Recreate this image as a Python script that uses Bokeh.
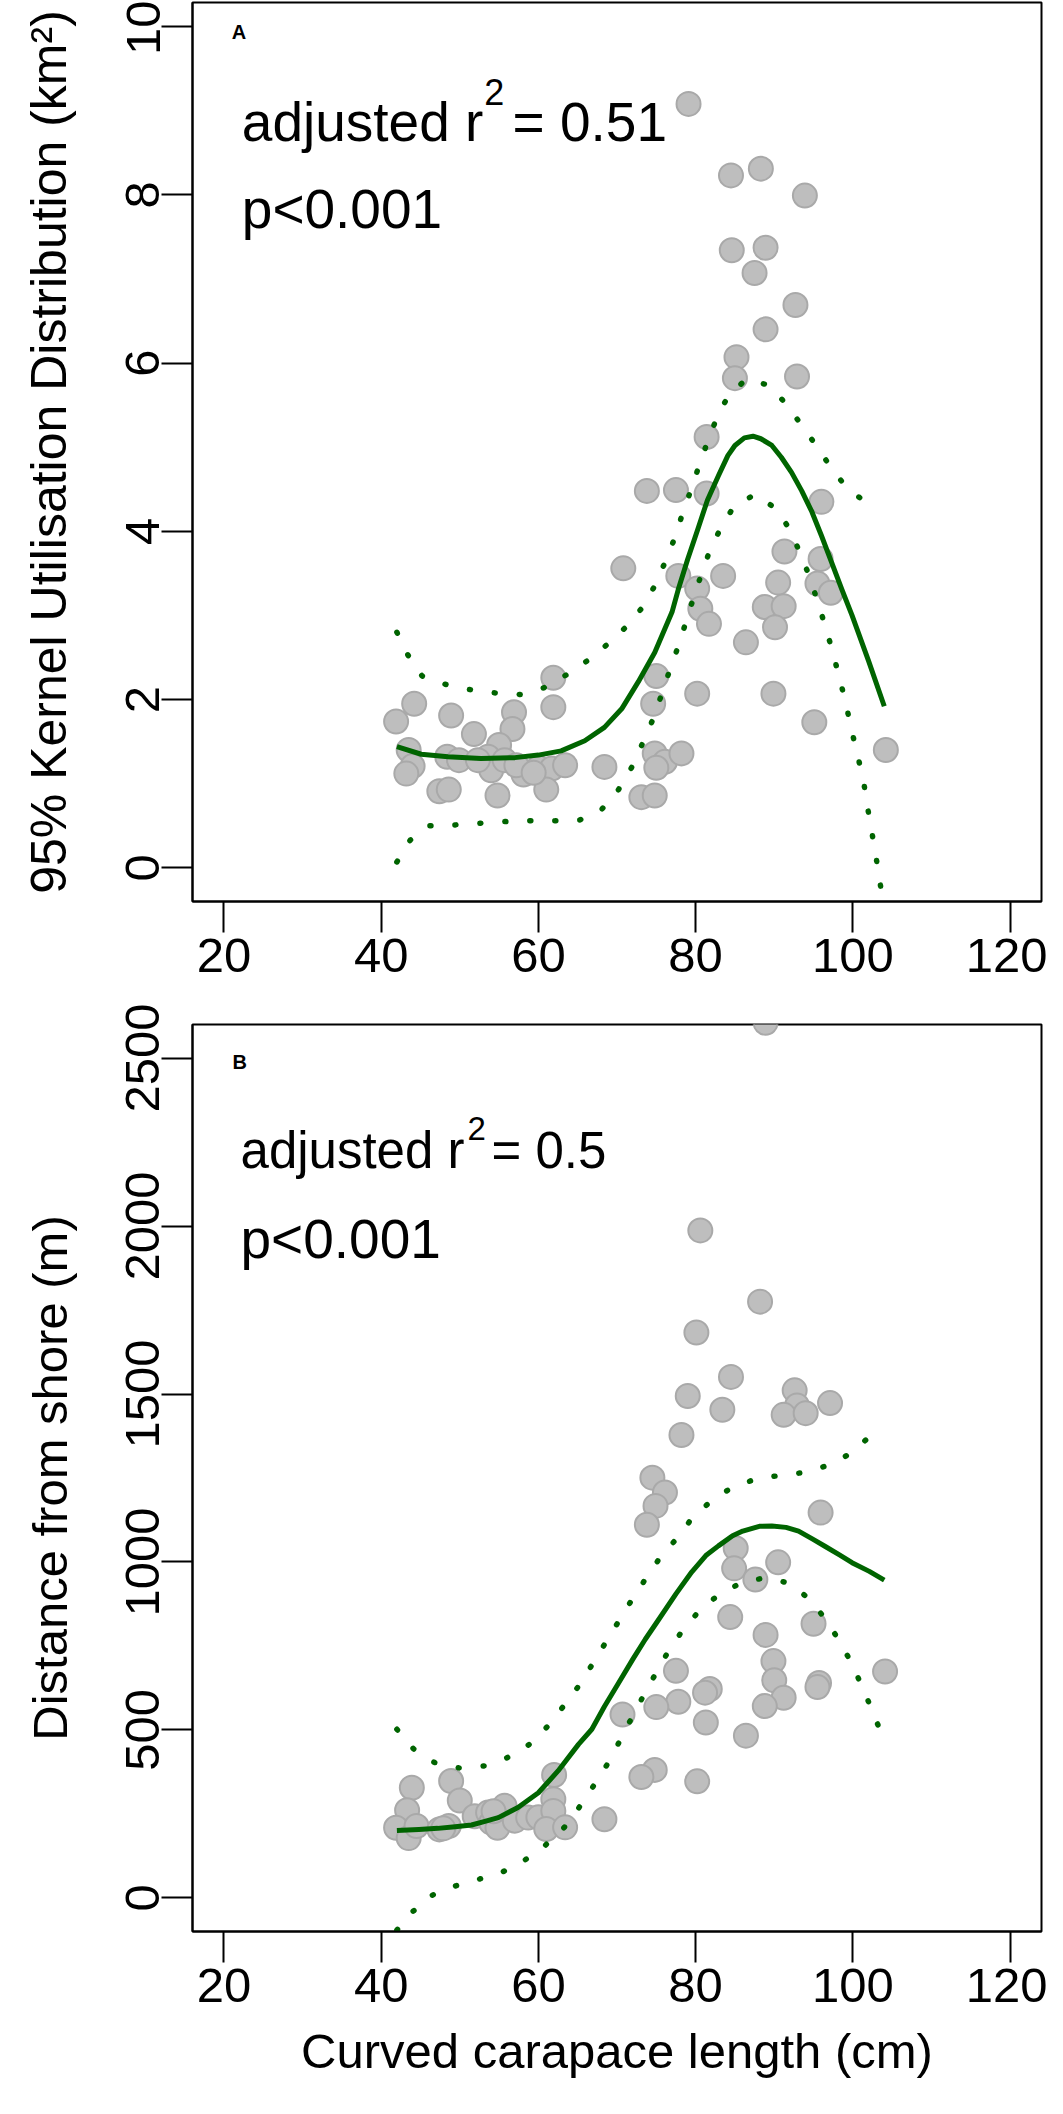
from bokeh.plotting import figure
from bokeh.layouts import column
from bokeh.models import Range1d, Label, FixedTicker
from bokeh.embed import file_html
from bokeh.resources import INLINE

FONT = "Liberation Sans"

# ---------------- Panel A data ----------------
a_x = [79.1, 84.5, 88.3, 93.9, 84.6, 88.9, 87.5, 92.7, 88.9, 85.2, 85.0, 92.9,
       81.4, 73.8, 77.5, 81.4, 96.0, 70.8, 91.3, 95.9, 83.5, 77.8, 80.2, 90.5,
       95.5, 97.2, 80.6, 88.8, 91.2, 81.7, 90.1, 86.4, 80.2, 89.9, 95.1, 104.2,
       75.0, 74.6, 74.8, 76.1, 75.0, 78.2, 73.1, 74.8, 68.4,
       41.9, 44.2, 48.9, 51.8, 56.9, 56.7, 61.9, 61.9, 55.0, 43.5, 44.0, 43.2,
       48.4, 49.9, 53.6, 54.0, 55.7, 58.1, 60.0, 61.7, 63.4, 61.0, 47.4, 48.6,
       54.8, 52.3, 57.2, 59.4]
a_y = [9.08, 8.23, 8.31, 7.99, 7.34, 7.37, 7.07, 6.69, 6.40, 6.07, 5.82, 5.84,
       5.12, 4.48, 4.49, 4.45, 4.35, 3.56, 3.76, 3.67, 3.47, 3.47, 3.32, 3.39,
       3.38, 3.27, 3.08, 3.10, 3.11, 2.90, 2.86, 2.68, 2.07, 2.07, 1.73, 1.40,
       2.28, 1.95, 1.36, 1.26, 1.19, 1.36, 0.84, 0.86, 1.20,
       1.74, 1.95, 1.81, 1.59, 1.85, 1.65, 2.26, 1.91, 1.46, 1.40, 1.21, 1.12,
       1.32, 1.28, 1.32, 1.16, 1.28, 1.11, 1.19, 1.18, 1.22, 0.93, 0.91, 0.93,
       0.86, 1.28, 1.22, 1.13]

a_fit_x = [42, 45.1, 48.5, 52.7, 57.0, 60.0, 62.9, 65.9, 68.4, 70.6, 72.7, 74.8,
           77.0, 77.8, 79.0, 80.3, 81.5, 82.9, 84.1, 85.0, 86.2, 87.3, 88.3, 89.7,
           90.9, 92.2, 93.5, 94.8, 96.0, 97.3, 98.6, 99.9, 102.0, 104.0]
a_fit_y = [1.44, 1.35, 1.32, 1.30, 1.31, 1.34, 1.39, 1.51, 1.67, 1.89, 2.21, 2.56,
           3.04, 3.31, 3.67, 4.03, 4.37, 4.66, 4.90, 5.02, 5.11, 5.13, 5.10, 5.02,
           4.88, 4.70, 4.48, 4.23, 3.95, 3.63, 3.31, 3.00, 2.46, 1.92]

a_up_x = [42, 43.4, 45.2, 48.2, 51.2, 54.4, 57.7, 60.7, 63.5, 66.2, 68.7, 71, 73.1,
          74.8, 76.1, 77.3, 78.3, 79.4, 80.4, 81.5, 82.7, 84.2, 86.5, 89.5, 91.6,
          93.5, 95.4, 97.2, 99.2, 101.7, 102.4]
a_up_y = [2.80, 2.53, 2.28, 2.18, 2.12, 2.08, 2.06, 2.14, 2.29, 2.46, 2.65, 2.85,
          3.08, 3.35, 3.63, 3.91, 4.20, 4.49, 4.77, 5.06, 5.35, 5.62, 5.81, 5.73,
          5.50, 5.26, 5.01, 4.76, 4.52, 4.34, 4.30]

a_lo_x = [42, 43.7, 46.2, 49.4, 52.6, 55.8, 59, 62.1, 65.3, 68.1, 70.2, 71.9, 73.2,
          74.5, 75.6, 76.6, 77.7, 78.7, 79.7, 80.7, 81.8, 83.2, 84.9, 87.6, 90.2,
          92, 93.3, 94.5, 95.5, 96.5, 97.4, 98.2, 99, 99.7, 100.4, 101.3, 101.8,
          102.9, 104]
a_lo_y = [0.07, 0.33, 0.50, 0.51, 0.53, 0.55, 0.56, 0.56, 0.57, 0.70, 0.93, 1.20,
          1.47, 1.75, 2.04, 2.32, 2.61, 2.90, 3.20, 3.48, 3.77, 4.04, 4.30, 4.44,
          4.27, 4.02, 3.74, 3.46, 3.17, 2.87, 2.58, 2.29, 2.00, 1.70, 1.41, 1.07,
          0.76, 0.16, -0.50]

# ---------------- Panel B data ----------------
b_x = [80.6, 88.2, 80.1, 84.5, 79.0, 83.4, 92.6, 92.9, 91.2, 94.0, 97.1, 78.2,
       74.5, 76.1, 74.9, 73.8, 95.9, 85.1, 84.9, 87.6, 90.5, 84.4, 95.0, 88.9,
       89.9, 90.0, 91.2, 88.8, 95.7, 95.5, 104.1, 77.5, 81.8, 81.2, 77.8, 75.0,
       81.3, 70.7, 86.4, 74.8, 73.1, 80.2, 68.4, 88.9,
       43.9, 48.9, 50.0, 43.3, 41.9, 43.5, 44.5, 47.4, 48.6, 51.9, 53.6, 54.0,
       54.8, 55.7, 57.0, 58.7, 60.0, 62.0, 61.9, 61.9, 61.0, 63.4, 54.3, 47.9]
b_y = [1987, 1775, 1683, 1551, 1494, 1453, 1511, 1466, 1438, 1443, 1473, 1378,
       1251, 1207, 1167, 1111, 1147, 1041, 981, 948, 999, 836, 816, 783,
       705, 648, 596, 571, 640, 628, 674, 676, 622, 611, 584, 568,
       522, 546, 483, 381, 360, 347, 234, 2605,
       328, 348, 290, 261, 209, 178, 214, 204, 214, 243, 254, 224,
       209, 274, 230, 239, 240, 366, 294, 259, 205, 210, 258, 207]

b_fit_x = [42, 44.8, 47.2, 49.4, 51.5, 53.2, 54.9, 57.4, 60.0, 62.5, 65.1, 66.8,
           68.4, 70.2, 72.0, 73.6, 75.2, 77.5, 79.5, 81.3, 82.9, 84.7, 86.0, 88.1,
           89.7, 91.5, 93.1, 94.9, 96.5, 98.3, 99.9, 102.1, 104]
b_fit_y = [201, 204, 207, 212, 217, 228, 239, 269, 313, 378, 457, 502,
           570, 640, 710, 770, 825, 905, 970, 1019, 1048, 1078, 1092, 1106,
           1107, 1103, 1092, 1068, 1046, 1021, 998, 972, 946]

b_up_x = [42, 44.1, 46.8, 49.9, 53.1, 56, 58.8, 61.1, 63.1, 65.1, 66.8, 68.5, 70.2,
          71.9, 73.7, 75.5, 77.6, 79.6, 82, 84.7, 87.7, 90.8, 94, 97, 99.8, 102.2,
          102.5]
b_up_y = [502, 444, 403, 387, 393, 417, 456, 509, 568, 630, 693, 758, 823,
          888, 952, 1014, 1070, 1132, 1182, 1223, 1247, 1258, 1267, 1289, 1324,
          1375, 1380]

b_lo_x = [42, 44, 46.5, 49.5, 52.5, 55.5, 58.3, 60.9, 63.3, 65.2, 67, 68.8, 70.3,
          71.8, 73.3, 74.9, 76.5, 78.3, 80.4, 82.9, 85.8, 88.8, 91.9, 94.4, 96.5,
          98.2, 99.8, 101.1, 102.4, 103.6, 104]
b_lo_y = [-96, -41, 8, 36, 56, 78, 113, 157, 210, 270, 333, 399, 465,
          533, 599, 667, 733, 795, 853, 902, 938, 953, 937, 891, 831,
          768, 701, 633, 562, 491, 480]

x_ticks = [20, 40, 60, 80, 100, 120]
a_ticks = [0, 2, 4, 6, 8, 10]
b_ticks = [0, 500, 1000, 1500, 2000, 2500]

GREEN = "#006400"


def make_panel(y_range, frame_h, top, bottom, yticks, ylabel, xlabel, ylab_size):
    p = figure(x_range=Range1d(16, 124), y_range=y_range,
               frame_width=849, frame_height=frame_h,
               min_border_left=192, min_border_right=6,
               min_border_top=top, min_border_bottom=bottom,
               output_backend="svg", toolbar_location=None)
    p.grid.visible = False
    p.outline_line_color = "black"
    p.outline_line_width = 2
    p.background_fill_color = "white"
    p.border_fill_color = "white"
    for ax in (p.xaxis[0], p.yaxis[0]):
        ax.axis_line_color = "black"
        ax.axis_line_width = 2
        ax.major_tick_line_color = "black"
        ax.major_tick_line_width = 2
        ax.major_tick_out = 31
        ax.major_tick_in = 0
        ax.minor_tick_line_color = None
        ax.major_label_text_font = FONT
        ax.major_label_text_font_size = "49px"
        ax.major_label_text_color = "black"
        ax.axis_label_text_font = FONT
        ax.axis_label_text_font_style = "normal"
        ax.axis_label_text_color = "black"
    p.xaxis.ticker = FixedTicker(ticks=x_ticks)
    p.yaxis.ticker = FixedTicker(ticks=yticks)
    p.yaxis.major_label_orientation = "vertical"
    p.xaxis.major_label_standoff = 6
    p.yaxis.major_label_standoff = 2
    p.yaxis.axis_label = ylabel
    p.yaxis.axis_label_text_font_size = ylab_size
    p.yaxis.axis_label_standoff = 47
    if xlabel:
        p.xaxis.axis_label = xlabel
        p.xaxis.axis_label_text_font_size = "49px"
        p.xaxis.axis_label_standoff = 19
    return p


def add_series(p, px, py, fx, fy, ux, uy, lx, ly):
    p.scatter(px, py, size=24, fill_color="#BEBEBE", line_color="#A9A9A9",
              line_width=2)
    p.line(fx, fy, line_color=GREEN, line_width=5, line_join="round")
    for bx, by in ((ux, uy), (lx, ly)):
        p.line(bx, by, line_color=GREEN, line_width=5.5, line_dash="1 24",
               line_cap="round")


def lab(p, x, y, text, size, bold=False):
    p.add_layout(Label(x=x, y=y, text=text, text_font=FONT,
                       text_font_size=size, text_color="black",
                       text_font_style="bold" if bold else "normal",
                       text_baseline="alphabetic", text_align="left"))


# Panel A
pa = make_panel(Range1d(-0.4, 10.285), 899, 2, 97, a_ticks,
                "95% Kernel Utilisation Distribution (km²)", None, "50px")
add_series(pa, a_x, a_y, a_fit_x, a_fit_y, a_up_x, a_up_y, a_lo_x, a_lo_y)
lab(pa, 21.0, 9.94, "A", "20px", bold=True)
lab(pa, 22.27, 8.86, "adjusted r", "55px")
lab(pa, 53.11, 9.22, "2", "36px")
lab(pa, 56.71, 8.86, "= 0.51", "55px")
lab(pa, 22.27, 7.83, "p<0.001", "55px")

# Panel B
pb = make_panel(Range1d(-100, 2600), 907, 26, 167, b_ticks,
                "Distance from shore (m)", "Curved carapace length (cm)", "49px")
add_series(pb, b_x, b_y, b_fit_x, b_fit_y, b_up_x, b_up_y, b_lo_x, b_lo_y)
lab(pb, 21.09, 2489, "B", "20px", bold=True)
lab(pb, 22.11, 2225, "adjusted r", "51px")
lab(pb, 50.98, 2290, "2", "33px")
lab(pb, 54.04, 2225, "= 0.5", "51px")
lab(pb, 22.11, 1962, "p<0.001", "55px")

layout = column(pa, pb, spacing=0)
open("out.html", "w").write(file_html(layout, INLINE))
